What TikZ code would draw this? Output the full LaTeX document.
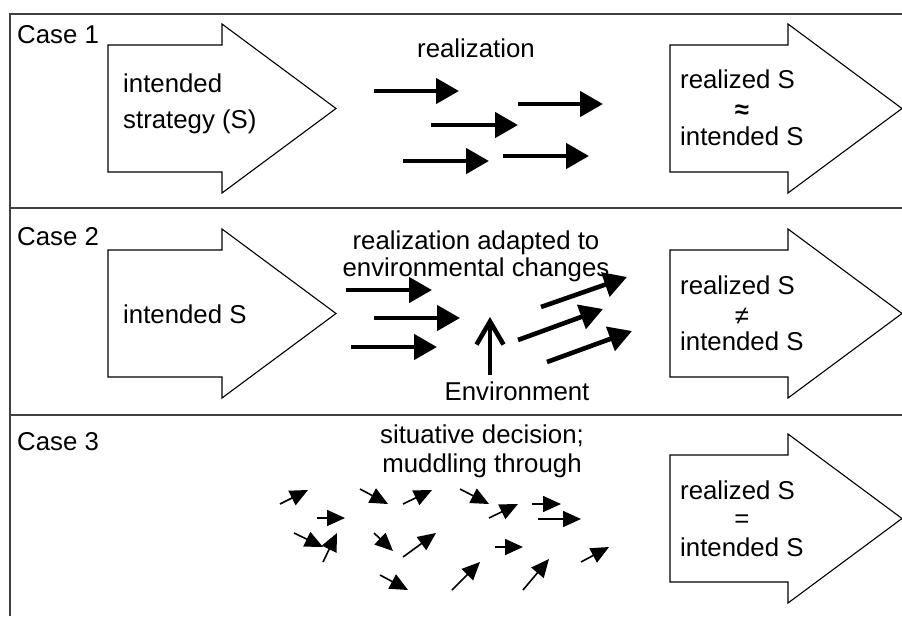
\documentclass[tikz,border=0pt]{standalone}
\usepackage{fontspec}
\setmainfont{Liberation Sans}
\usetikzlibrary{arrows.meta}

% outlined block arrow: name, top-left corner of the shaft, shaft length
\newcommand\blockarrow[4]{%
  \draw[blockout] (#2,#3) -- ++(#4,0) -- ++(0,-21) -- ++(114,84.5)
    -- ++(-114,84.5) -- ++(0,-21) -- ++(-#4,0) -- cycle;
  \coordinate (#1) at (#2,#3);}

\begin{document}
\begin{tikzpicture}[x=1pt,y=-1pt,
  frame/.style={draw=black!75, line width=1.6pt},
  blockout/.style={draw=black, line width=1.1pt, fill=white, line join=miter},
  txt/.style={inner sep=0pt, font=\fontsize{25.8}{30}\selectfont},
  bold arrow/.style={line width=4.6pt, -{Triangle[length=23pt,width=25pt]}},
  open arrow/.style={line width=4.6pt, -{Straight Barb[length=23pt,width=27pt]}},
  small arrow/.style={line width=1.6pt, -{Triangle[length=18pt,width=16pt]}},
]
\useasboundingbox (0,0) rectangle (902,616);

% frame and row separators
\draw[frame] (10,616) -- (10,14) -- (902,14);
\draw[frame] (10,208) -- (902,208);
\draw[frame] (10,415) -- (902,415);

% row labels
\node[txt, anchor=base west] (case1) at (17,43) {Case 1};
\node[txt, anchor=base west] (case2) at (17,245) {Case 2};
\node[txt, anchor=base west] (case3) at (17,450) {Case 3};

% block arrows
\blockarrow{in1}{108}{45}{114}
\blockarrow{in2}{108}{250}{114}
\blockarrow{out1}{670}{45}{118}
\blockarrow{out2}{670}{250}{118}
\blockarrow{out3}{670}{455}{118}

% texts inside the block arrows
\node[txt, anchor=base west] (int1a) at (123,92) {intended};
\node[txt, anchor=base west] (int1b) at (123,128) {strategy (S)};
\node[txt, anchor=base west] (int2) at (123,323) {intended S};

\node[txt, anchor=base west] (real1) at (680,88) {realized S};
\node[txt, font=\fontsize{25.8}{30}\selectfont\bfseries] (rel1) at (742,112) {≈};
\node[txt, anchor=base west] (int1) at (680,145) {intended S};

\node[txt, anchor=base west] (real2) at (680,294) {realized S};
\node[txt] (rel2) at (742,316) {≠};
\node[txt, anchor=base west] (intr2) at (680,350) {intended S};

\node[txt, anchor=base west] (real3) at (680,499) {realized S};
\node[txt] (rel3) at (742,521) {=};
\node[txt, anchor=base west] (int3) at (680,556) {intended S};

% middle labels
\node[txt, anchor=base] (realization) at (476,57) {realization};
\node[txt, anchor=base] (adaptA) at (476,249) {realization adapted to};
\node[txt, anchor=base] (adaptB) at (476,276) {environmental changes};
\node[txt, anchor=base] (env) at (517,400) {Environment};
\node[txt, anchor=base] (situA) at (482,443) {situative decision;};
\node[txt, anchor=base] (situB) at (482,472) {muddling through};

% case 1: straight realization
\foreach \n/\xa/\ya/\xb/\yb in {
  a/374/91/459/91, b/518/104/603/104, c/431/125/518/125,
  d/403/161/489/161, e/503/156/589/156}{
  \coordinate (r\n-s) at (\xa,\ya);
  \coordinate (r\n-e) at (\xb,\yb);
  \draw[bold arrow] (r\n-s) -- (r\n-e);
}

% case 2: adapted realization
\foreach \n/\xa/\ya/\xb/\yb in {
  a/346/290/432/290, b/374/318/460/318, c/351/347/437/347,
  d/541/307/627/277, e/518/340/603/309, f/547/362/632/331}{
  \coordinate (t\n-s) at (\xa,\ya);
  \coordinate (t\n-e) at (\xb,\yb);
  \draw[bold arrow] (t\n-s) -- (t\n-e);
}
\coordinate (envfoot) at (490,375);
\coordinate (envhead) at (490,317);
\draw[open arrow] (envfoot) -- (envhead);

% case 3: scattered decisions
\foreach \n/\xa/\ya/\xb/\yb in {
  a/280/504/308/490, b/317/518/345/518, c/360/489/388/504,
  d/403/504/432/490, e/460/489/489/504, f/489/518/518/504,
  g/532/504/561/504, h/538/519/581/519, i/294/533/323/547,
  j/323/562/337/533, k/374/533/393/551, l/403/557/436/533,
  m/495/547/523/547, n/581/562/609/547, o/380/575/408/590,
  p/452/590/480/562, q/523/590/549/559}{
  \coordinate (d\n-s) at (\xa,\ya);
  \coordinate (d\n-e) at (\xb,\yb);
  \draw[small arrow] (d\n-s) -- (d\n-e);
}
\end{tikzpicture}
\end{document}
